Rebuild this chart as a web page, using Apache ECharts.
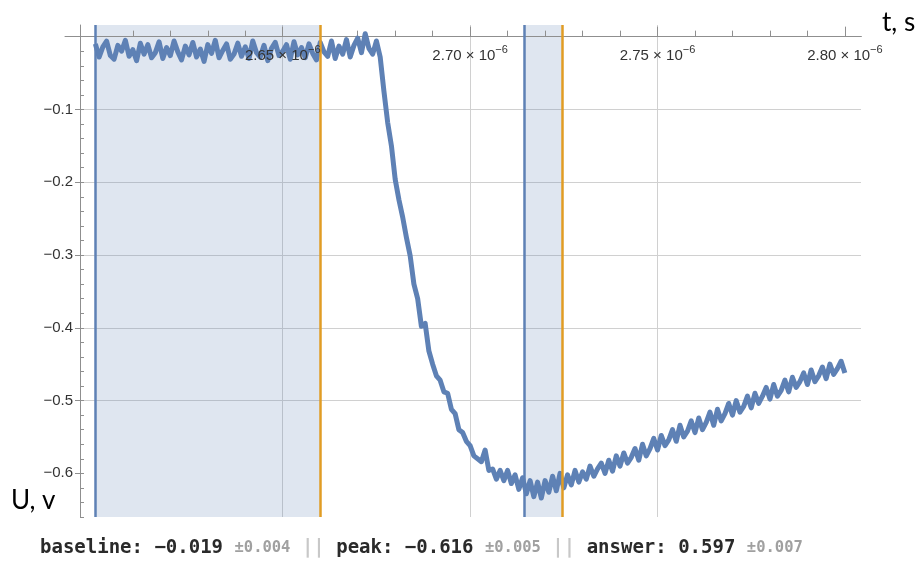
<!DOCTYPE html>
<html><head><meta charset="utf-8">
<script src="https://cdn.jsdelivr.net/npm/echarts@6/dist/echarts.min.js"></script>
<style>html,body{margin:0;padding:0;background:#fff}#c{width:922px;height:561px}</style>
</head><body><div id="c"></div>
<script>
// time base of the trace, in units of 1e-6 s
const sampleStart = 2.600;
const sampleStep = 0.001;
// voltage (V), one value per sample
const voltage = [
 -0.010,-0.028,-0.014,-0.006,-0.026,-0.031,-0.012,-0.020,-0.005,-0.027,
 -0.018,-0.033,-0.009,-0.024,-0.011,-0.029,-0.022,-0.007,-0.030,-0.015,
 -0.026,-0.006,-0.021,-0.032,-0.013,-0.025,-0.008,-0.028,-0.017,-0.034,
 -0.011,-0.023,-0.005,-0.029,-0.019,-0.010,-0.031,-0.024,-0.009,-0.027,
 -0.014,-0.030,-0.006,-0.022,-0.028,-0.012,-0.033,-0.016,-0.008,-0.026,
 -0.020,-0.011,-0.031,-0.007,-0.025,-0.015,-0.029,-0.010,-0.023,-0.032,
 -0.008,-0.021,-0.027,-0.006,-0.030,-0.013,-0.024,-0.004,-0.028,-0.012,
 -0.002,-0.022,0.004,-0.016,-0.024,-0.006,-0.028,-0.075,-0.118,-0.150,
 -0.196,-0.224,-0.248,-0.276,-0.301,-0.340,-0.360,-0.398,-0.394,-0.432,
 -0.450,-0.466,-0.472,-0.488,-0.490,-0.512,-0.518,-0.540,-0.544,-0.556,
 -0.562,-0.576,-0.580,-0.584,-0.568,-0.596,-0.594,-0.608,-0.596,-0.610,
 -0.596,-0.614,-0.602,-0.622,-0.606,-0.628,-0.610,-0.632,-0.612,-0.634,
 -0.610,-0.626,-0.604,-0.624,-0.600,-0.620,-0.602,-0.616,-0.596,-0.612,
 -0.598,-0.608,-0.590,-0.604,-0.594,-0.586,-0.600,-0.582,-0.597,-0.576,
 -0.590,-0.572,-0.586,-0.578,-0.566,-0.582,-0.560,-0.576,-0.566,-0.552,
 -0.568,-0.548,-0.562,-0.554,-0.540,-0.556,-0.534,-0.550,-0.542,-0.528,
 -0.544,-0.524,-0.540,-0.530,-0.516,-0.534,-0.512,-0.528,-0.518,-0.504,
 -0.520,-0.500,-0.516,-0.508,-0.494,-0.510,-0.490,-0.504,-0.494,-0.482,
 -0.498,-0.478,-0.494,-0.486,-0.472,-0.488,-0.468,-0.482,-0.474,-0.462,
 -0.478,-0.458,-0.474,-0.466,-0.454,-0.470,-0.450,-0.464,-0.456,-0.446,
 -0.462
];
// analysis windows (1e-6 s)
const baselineWindow = [2.600, 2.660];
const peakWindow = [2.7145, 2.7247];
// axis ranges and ticks
const xRange = [2.5959, 2.8043];
const xRangeExt = [2.5919, 2.8043];
const yRange = [-0.66, 0.016];
const xMajorTicks = [2.60, 2.65, 2.70, 2.75, 2.80];
const xLabelTicks = [2.65, 2.70, 2.75, 2.80];
const xMinorStep = 0.01;
const yMajorTicks = [-0.6, -0.5, -0.4, -0.3, -0.2, -0.1, 0];
const yLabelTicks = [-0.6, -0.5, -0.4, -0.3, -0.2, -0.1];
const yMinorStep = 0.02;
// summary line
const summaryLabels = ['baseline', 'peak', 'answer'];
const summaryValues = [-0.019, -0.616, 0.597];
const summaryErrors = [0.004, 0.005, 0.007];

const blue = '#5e81b5', orange = '#e19c24';
const axisColor = '#8f8f8f', gridColor = '#d0d0d0', textColor = '#333';

const xMinorTicks = [];
for (let v = xMajorTicks[0]; v <= xMajorTicks[xMajorTicks.length - 1] + 1e-9; v += xMinorStep) xMinorTicks.push(+v.toFixed(3));
const yMinorTicks = [];
for (let v = yRange[0]; v <= 1e-9; v += yMinorStep) yMinorTicks.push(+v.toFixed(3));

const seriesData = voltage.map((v, i) => [+(sampleStart + i * sampleStep).toFixed(4), v]);

const fmtSigned = (v, d) => (v < 0 ? '\u2212' : '') + Math.abs(v).toFixed(d);

const footer = summaryLabels.map((l, i) =>
  `{m|${l}: ${fmtSigned(summaryValues[i], 3)} }{s|\u00b1${summaryErrors[i].toFixed(3)}}`
).join('{sep| || }');

const chart = echarts.init(document.getElementById('c'), null, {renderer: 'canvas', width: 922, height: 561});
const gridV = {top: 25, bottom: 44};
const option = {
  animation: false,
  backgroundColor: '#fff',
  title: [
    {text: 't, s', left: 882, top: 10, padding: 0,
     textStyle: {fontFamily: 'Lato', fontSize: 26, fontWeight: 'normal', color: '#000'}},
    {text: 'U, v', left: 11, top: 488, padding: 0,
     textStyle: {fontFamily: 'Lato', fontSize: 26, fontWeight: 'normal', color: '#000'}},
    {text: footer, left: 40, top: 536, padding: 0,
     textStyle: {rich: {
       m: {fontFamily: 'DejaVu Sans Mono', fontSize: 19, color: '#2a2a2a', lineHeight: 24},
       s: {fontFamily: 'DejaVu Sans Mono', fontSize: 15.5, color: '#a0a0a0', lineHeight: 24},
       sep: {fontFamily: 'DejaVu Sans Mono', fontSize: 19, color: '#c8c8c8', lineHeight: 24}
     }}}
  ],
  grid: [
    {left: 80, right: 61, top: gridV.top, bottom: gridV.bottom, outerBoundsMode: 'none'},
    {left: 65, right: 61, top: gridV.top, bottom: gridV.bottom, outerBoundsMode: 'none'},
    // thin band above y = 0, used only to place the time-axis labels under the zero line
    {left: 80, right: 61, top: gridV.top, bottom: 524, outerBoundsMode: 'none'}
  ],
  xAxis: [
    { // main: axis line, major ticks, grid lines
      type: 'value', gridIndex: 0, min: xRange[0], max: xRange[1], position: 'bottom',
      axisLine: {show: true, onZero: true, lineStyle: {color: axisColor, width: 1}},
      axisTick: {show: true, inside: true, length: 10, customValues: xMajorTicks, lineStyle: {color: axisColor}},
      axisLabel: {show: false},
      splitLine: {show: true, showMinLine: false, showMaxLine: false, lineStyle: {color: gridColor, width: 1}}
    },
    { // minor ticks
      type: 'value', gridIndex: 0, min: xRange[0], max: xRange[1], position: 'bottom',
      axisLine: {show: true, onZero: true, lineStyle: {color: axisColor, width: 1}},
      axisTick: {show: true, inside: true, length: 6, customValues: xMinorTicks, lineStyle: {color: axisColor}},
      axisLabel: {show: false},
      splitLine: {show: false}
    },
    { // extension of the time axis line to the left of the voltage axis
      type: 'value', gridIndex: 1, min: xRangeExt[0], max: xRangeExt[1], position: 'bottom',
      axisLine: {show: true, onZero: true, lineStyle: {color: axisColor, width: 1}},
      axisTick: {show: false}, axisLabel: {show: false}, splitLine: {show: false}
    },
    { // tick labels, drawn above the trace
      type: 'value', gridIndex: 2, min: xRange[0], max: xRange[1], position: 'bottom', z: 10,
      axisLine: {show: false, onZero: false},
      axisTick: {show: false}, splitLine: {show: false},
      axisLabel: {show: true, customValues: xLabelTicks, margin: 7,
        formatter: v => `{m|${v.toFixed(2)} \u00d7 10}{e|\u22126}`,
        rich: {
          m: {fontFamily: 'Liberation Sans', fontSize: 15, color: textColor, lineHeight: 24},
          e: {fontFamily: 'Liberation Sans', fontSize: 11, color: textColor, lineHeight: 11, verticalAlign: 'top'}
        }}
    }
  ],
  yAxis: [
    {
      type: 'value', gridIndex: 0, min: yRange[0], max: yRange[1], position: 'left',
      axisLine: {show: true, onZero: false, lineStyle: {color: axisColor, width: 1}},
      axisTick: {show: true, inside: false, length: 5, customValues: yMajorTicks, lineStyle: {color: axisColor}},
      axisLabel: {show: true, customValues: yLabelTicks, margin: 7,
        formatter: v => fmtSigned(v, 1),
        fontFamily: 'Liberation Sans', fontSize: 15, color: textColor},
      splitLine: {show: true, showMinLine: false, showMaxLine: false, lineStyle: {color: gridColor, width: 1}}
    },
    {
      type: 'value', gridIndex: 0, min: yRange[0], max: yRange[1], position: 'left',
      axisLine: {show: false, onZero: false},
      axisTick: {show: true, inside: true, length: 4, customValues: yMinorTicks, lineStyle: {color: axisColor}},
      axisLabel: {show: false}, splitLine: {show: false}
    },
    {type: 'value', gridIndex: 1, min: yRange[0], max: yRange[1], show: false},
    {type: 'value', gridIndex: 2, min: 0, max: yRange[1], show: false}
  ],
  series: [{
    type: 'line', xAxisIndex: 0, yAxisIndex: 0, data: seriesData, z: 1,
    showSymbol: false, symbol: 'none', silent: true,
    lineStyle: {color: blue, width: 5, join: 'round'},
    itemStyle: {color: blue},
    markArea: {
      silent: true, z: 0,
      itemStyle: {color: 'rgba(94,129,181,0.2)'},
      data: [
        [{xAxis: baselineWindow[0]}, {xAxis: baselineWindow[1]}],
        [{xAxis: peakWindow[0]}, {xAxis: peakWindow[1]}]
      ]
    },
    markLine: {
      silent: true, z: 5, precision: 6, symbol: ['none', 'none'], label: {show: false},
      lineStyle: {type: 'solid', width: 2.5},
      data: [
        {xAxis: baselineWindow[0], lineStyle: {color: blue, type: 'solid', width: 2.5}},
        {xAxis: baselineWindow[1], lineStyle: {color: orange, type: 'solid', width: 2.5}},
        {xAxis: peakWindow[0], lineStyle: {color: blue, type: 'solid', width: 2.5}},
        {xAxis: peakWindow[1], lineStyle: {color: orange, type: 'solid', width: 2.5}}
      ]
    }
  }]
};
chart.setOption(option);
</script>
</body></html>
